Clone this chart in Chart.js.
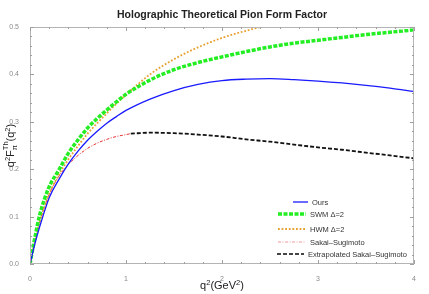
<!DOCTYPE html>
<html>
<head>
<meta charset="utf-8">
<script src="https://cdn.jsdelivr.net/npm/chart.js@4"></script>
<style>
  html, body { margin: 0; padding: 0; background: #fff; }
  #wrap { width: 429px; height: 294px; }
</style>
</head>
<body>
<div id="wrap"><canvas id="formFactorChart"></canvas></div>
<script>
// values
const qGrid = [0, 0.05, 0.1, 0.2, 0.3, 0.4, 0.5, 0.6, 0.7, 0.8, 0.9, 1.0, 1.25, 1.5, 1.75, 2.0, 2.25, 2.5, 2.75, 3.0, 3.25, 3.5, 3.75, 4.0];
const oursValues = [0, 0.042, 0.078, 0.14, 0.178, 0.211, 0.238, 0.261, 0.28, 0.297, 0.311, 0.324, 0.348, 0.366, 0.379, 0.387, 0.39, 0.391, 0.389, 0.386, 0.382, 0.377, 0.371, 0.364];
const swmValues = [0, 0.055, 0.103, 0.163, 0.198, 0.234, 0.262, 0.287, 0.307, 0.325, 0.342, 0.358, 0.388, 0.41, 0.425, 0.437, 0.448, 0.458, 0.466, 0.472, 0.478, 0.484, 0.489, 0.494];

const hwmQ = [0, 0.05, 0.1, 0.2, 0.3, 0.4, 0.5, 0.6, 0.7, 0.8, 0.9, 1.0, 1.25, 1.5, 1.75, 2.0, 2.25, 2.5, 2.75];
const hwmValues = [0, 0.047, 0.088, 0.148, 0.188, 0.221, 0.249, 0.275, 0.297, 0.318, 0.338, 0.357, 0.4, 0.432, 0.457, 0.477, 0.492, 0.505, 0.518];

const ssQ = [0, 0.05, 0.1, 0.2, 0.3, 0.4, 0.5, 0.6, 0.7, 0.8, 0.9, 1.0, 1.05];
const ssValues = [0, 0.046, 0.088, 0.147, 0.185, 0.21, 0.229, 0.244, 0.255, 0.263, 0.269, 0.273, 0.275];

const extQ = [1.05, 1.25, 1.5, 1.75, 2.0, 2.25, 2.5, 2.75, 3.0, 3.25, 3.5, 3.75, 4.0];
const extValues = [0.275, 0.277, 0.276, 0.273, 0.269, 0.263, 0.258, 0.252, 0.246, 0.241, 0.235, 0.229, 0.223];

const xTicks = [0, 1, 2, 3, 4];
const yTicks = [0, 0.1, 0.2, 0.3, 0.4, 0.5];

function pairs(xs, ys) {
  return xs.map((x, i) => ({ x: x, y: ys[i] }));
}

const tickGray = '#8a8a8a';
const frameGray = '#b4b4b4';

// frame with inward ticks, like the original
const framePlugin = {
  id: 'frame',
  afterDraw(chart) {
    const { ctx, chartArea: a, scales } = chart;
    const xs = scales.x, ys = scales.y;
    ctx.save();
    ctx.strokeStyle = frameGray;
    ctx.lineWidth = 1;
    ctx.strokeRect(a.left + 0.5, a.top + 0.5, a.right - a.left - 1, a.bottom - a.top - 1);
    ctx.strokeStyle = '#a0a0a0';
    for (let i = 0; i <= 20; i++) {
      const px = Math.round(xs.getPixelForValue(i * 0.2)) + 0.5;
      const len = (i % 5 === 0) ? 4 : 2;
      ctx.beginPath();
      ctx.moveTo(px, a.bottom); ctx.lineTo(px, a.bottom - len);
      ctx.moveTo(px, a.top); ctx.lineTo(px, a.top + len);
      ctx.stroke();
    }
    for (let i = 0; i <= 25; i++) {
      const py = Math.round(ys.getPixelForValue(i * 0.02)) + 0.5;
      const len = (i % 5 === 0) ? 4 : 2;
      ctx.beginPath();
      ctx.moveTo(a.left, py); ctx.lineTo(a.left + len, py);
      ctx.moveTo(a.right, py); ctx.lineTo(a.right - len, py);
      ctx.stroke();
    }
    ctx.restore();
  }
};

// draws a run of text pieces with raised / lowered bits
function drawPieces(ctx, parts, baseY) {
  let total = 0;
  parts.forEach(p => {
    ctx.font = p.f;
    let w = ctx.measureText(p.t).width;
    if (p.stack) w = Math.max(w, ctx.measureText(p.stack).width);
    p.w = w;
    total += w;
  });
  let x = -total / 2;
  ctx.textAlign = 'left';
  parts.forEach(p => {
    ctx.font = p.f;
    ctx.fillText(p.t, x, baseY + p.dy);
    if (p.stack) ctx.fillText(p.stack, x, baseY - 6);
    x += p.w;
  });
}

// titles with sub/superscripts
const textPlugin = {
  id: 'texts',
  afterDraw(chart) {
    const { ctx, chartArea: a } = chart;
    const cx = (a.left + a.right) / 2;
    const big = '11px "Liberation Sans", Arial, sans-serif';
    const small = '7.5px "Liberation Sans", Arial, sans-serif';
    ctx.save();
    ctx.fillStyle = '#222';
    ctx.textBaseline = 'alphabetic';
    ctx.textAlign = 'center';
    ctx.font = 'bold 10.5px "Liberation Sans", Arial, sans-serif';
    ctx.fillText('Holographic Theoretical Pion Form Factor', cx, 18);

    // x title: q²(GeV²)
    ctx.save();
    ctx.translate(cx, 0);
    drawPieces(ctx, [
      { t: 'q', f: big, dy: 0 },
      { t: '2', f: small, dy: -4 },
      { t: '(GeV', f: big, dy: 0 },
      { t: '2', f: small, dy: -4 },
      { t: ')', f: big, dy: 0 }
    ], 289);
    ctx.restore();

    // y title: q² F_π^Th (q²), rotated
    const cy = (a.top + a.bottom) / 2;
    ctx.translate(11, cy);
    ctx.rotate(-Math.PI / 2);
    drawPieces(ctx, [
      { t: 'q', f: big, dy: 0 },
      { t: '2', f: small, dy: -4 },
      { t: 'F', f: big, dy: 0 },
      { t: '\u03c0', f: small, dy: 3, stack: 'Th' },
      { t: '(q', f: big, dy: 0 },
      { t: '2', f: small, dy: -4 },
      { t: ')', f: big, dy: 0 }
    ], 3);
    ctx.restore();
  }
};

// legend inside the plot, bottom right
const legendRows = [
  { label: 'Ours', y: 202, x0: 293, x1: 308 },
  { label: 'SWM \u0394=2', y: 214, x0: 278, x1: 306 },
  { label: 'HWM \u0394=2', y: 229, x0: 278, x1: 306 },
  { label: 'Sakai\u2013Sugimoto', y: 242, x0: 278, x1: 306 },
  { label: 'Extrapolated Sakai\u2013Sugimoto', y: 254, x0: 277, x1: 304 }
];

const legendPlugin = {
  id: 'insideLegend',
  afterDatasetsDraw(chart) {
    const { ctx } = chart;
    ctx.save();
    chart.data.datasets.forEach((ds, i) => {
      const row = legendRows[i];
      ctx.strokeStyle = ds.legendColor || ds.borderColor;
      ctx.lineWidth = ds.borderWidth;
      ctx.setLineDash(ds.borderDash || []);
      ctx.beginPath();
      ctx.moveTo(row.x0, row.y);
      ctx.lineTo(row.x1, row.y);
      ctx.stroke();
      ctx.setLineDash([]);
      ctx.fillStyle = '#333';
      ctx.font = '7.5px "Liberation Sans", Arial, sans-serif';
      ctx.textAlign = 'left';
      ctx.textBaseline = 'middle';
      ctx.fillText(row.label, row.x1 + 4, row.y + 0.5);
    });
    ctx.restore();
  }
};

const common = { pointRadius: 0, fill: false, cubicInterpolationMode: 'monotone' };

new Chart(document.getElementById('formFactorChart'), {
  type: 'line',
  data: {
    datasets: [
      { ...common, label: 'Ours', data: pairs(qGrid, oursValues), borderColor: '#1a1aff', borderWidth: 1.3 },
      { ...common, label: 'SWM \u0394=2', data: pairs(qGrid, swmValues), borderColor: '#22ee22', borderWidth: 3.5, borderDash: [4, 1.5] },
      { ...common, label: 'HWM \u0394=2', data: pairs(hwmQ, hwmValues), borderColor: '#e8a030', borderWidth: 1.8, borderDash: [1.8, 1.8] },
      { ...common, label: 'Sakai\u2013Sugimoto', data: pairs(ssQ, ssValues), borderColor: '#e53030', legendColor: '#f29a9a', borderWidth: 1, borderDash: [3, 1.5, 1, 1.5] },
      { ...common, label: 'Extrapolated Sakai\u2013Sugimoto', data: pairs(extQ, extValues), borderColor: '#111', legendColor: '#444', borderWidth: 1.8, borderDash: [4, 2] }
    ]
  },
  options: {
    responsive: true,
    maintainAspectRatio: false,
    animation: false,
    layout: { padding: { left: 0, right: 15, top: 27, bottom: 0 } },
    plugins: {
      legend: { display: false },
      title: { display: false },
      tooltip: { enabled: false }
    },
    scales: {
      x: {
        type: 'linear',
        min: 0,
        max: 4,
        afterFit(s) { s.height = 30; },
        afterBuildTicks(s) { s.ticks = xTicks.map(v => ({ value: v })); },
        grid: { display: false },
        border: { display: false },
        ticks: {
          color: tickGray,
          padding: 3,
          font: { size: 7, family: '"Liberation Sans", Arial, sans-serif' },
          callback: v => String(v)
        }
      },
      y: {
        min: 0,
        max: 0.5,
        afterFit(s) { s.width = 30; },
        afterBuildTicks(s) { s.ticks = yTicks.map(v => ({ value: v })); },
        grid: { display: false },
        border: { display: false },
        ticks: {
          color: tickGray,
          padding: 3,
          font: { size: 7, family: '"Liberation Sans", Arial, sans-serif' },
          callback: v => Number(v).toFixed(1)
        }
      }
    }
  },
  plugins: [framePlugin, textPlugin, legendPlugin]
});
</script>
</body>
</html>
